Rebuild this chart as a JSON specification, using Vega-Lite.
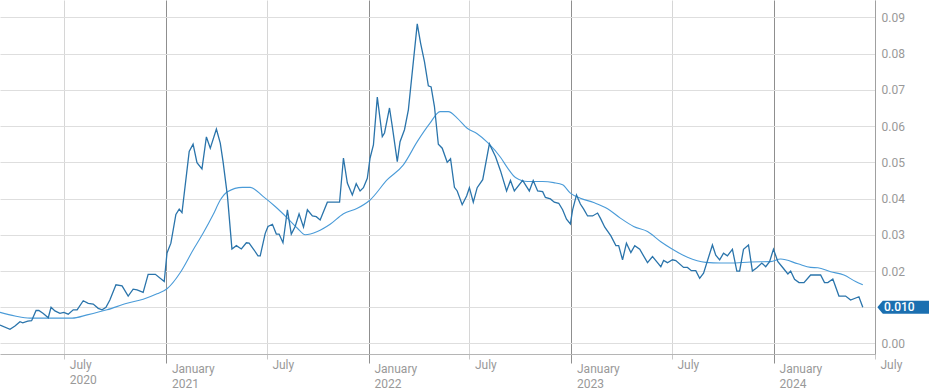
{
  "$schema": "https://vega.github.io/schema/vega-lite/v6.json",
  "width": 875,
  "height": 354,
  "autosize": "none",
  "padding": {"left": 0, "top": 0, "right": 54, "bottom": 35},
  "background": "white",
  "config": {
    "view": {"stroke": null},
    "font": "Roboto",
    "axis": {"labelFont": "Roboto", "labelFontSize": 12, "labelColor": "#999999", "title": null}
  },
  "datasets": {
    "price": [
      {"date": "2020-03-07", "v": 0.0051}, {"date": "2020-03-25", "v": 0.0039}, {"date": "2020-04-03", "v": 0.0048},
      {"date": "2020-04-12", "v": 0.0060}, {"date": "2020-04-17", "v": 0.0057}, {"date": "2020-04-26", "v": 0.0062},
      {"date": "2020-05-03", "v": 0.0063}, {"date": "2020-05-11", "v": 0.0091}, {"date": "2020-05-16", "v": 0.0091},
      {"date": "2020-05-24", "v": 0.0083}, {"date": "2020-06-02", "v": 0.0071}, {"date": "2020-06-07", "v": 0.0100},
      {"date": "2020-06-14", "v": 0.0090}, {"date": "2020-06-23", "v": 0.0083}, {"date": "2020-06-30", "v": 0.0086},
      {"date": "2020-07-08", "v": 0.0081}, {"date": "2020-07-17", "v": 0.0093}, {"date": "2020-07-24", "v": 0.0093},
      {"date": "2020-08-04", "v": 0.0118}, {"date": "2020-08-13", "v": 0.0111}, {"date": "2020-08-22", "v": 0.0109},
      {"date": "2020-08-31", "v": 0.0097}, {"date": "2020-09-07", "v": 0.0093}, {"date": "2020-09-14", "v": 0.0100},
      {"date": "2020-09-21", "v": 0.0120}, {"date": "2020-10-02", "v": 0.0162}, {"date": "2020-10-13", "v": 0.0159},
      {"date": "2020-10-24", "v": 0.0131}, {"date": "2020-11-02", "v": 0.0150}, {"date": "2020-11-09", "v": 0.0148},
      {"date": "2020-11-20", "v": 0.0141}, {"date": "2020-11-29", "v": 0.0191}, {"date": "2020-12-12", "v": 0.0191},
      {"date": "2020-12-28", "v": 0.0171}, {"date": "2021-01-02", "v": 0.0250}, {"date": "2021-01-09", "v": 0.0277},
      {"date": "2021-01-18", "v": 0.0356}, {"date": "2021-01-24", "v": 0.0371}, {"date": "2021-01-29", "v": 0.0361},
      {"date": "2021-02-11", "v": 0.0530}, {"date": "2021-02-18", "v": 0.0550}, {"date": "2021-02-25", "v": 0.0499},
      {"date": "2021-03-06", "v": 0.0482}, {"date": "2021-03-14", "v": 0.0570}, {"date": "2021-03-21", "v": 0.0539},
      {"date": "2021-04-01", "v": 0.0592}, {"date": "2021-04-08", "v": 0.0553}, {"date": "2021-04-13", "v": 0.0502},
      {"date": "2021-04-21", "v": 0.0406}, {"date": "2021-04-29", "v": 0.0261}, {"date": "2021-05-07", "v": 0.0270},
      {"date": "2021-05-16", "v": 0.0261}, {"date": "2021-05-25", "v": 0.0278}, {"date": "2021-05-30", "v": 0.0277},
      {"date": "2021-06-08", "v": 0.0258}, {"date": "2021-06-15", "v": 0.0242}, {"date": "2021-06-19", "v": 0.0242},
      {"date": "2021-06-28", "v": 0.0304}, {"date": "2021-07-03", "v": 0.0323}, {"date": "2021-07-11", "v": 0.0329},
      {"date": "2021-07-18", "v": 0.0302}, {"date": "2021-07-23", "v": 0.0302}, {"date": "2021-07-30", "v": 0.0278},
      {"date": "2021-08-07", "v": 0.0369}, {"date": "2021-08-14", "v": 0.0302}, {"date": "2021-08-21", "v": 0.0323},
      {"date": "2021-08-28", "v": 0.0358}, {"date": "2021-09-05", "v": 0.0321}, {"date": "2021-09-12", "v": 0.0369},
      {"date": "2021-09-21", "v": 0.0352}, {"date": "2021-09-28", "v": 0.0350}, {"date": "2021-10-05", "v": 0.0341},
      {"date": "2021-10-18", "v": 0.0390}, {"date": "2021-10-29", "v": 0.0390}, {"date": "2021-11-09", "v": 0.0390},
      {"date": "2021-11-16", "v": 0.0512}, {"date": "2021-11-23", "v": 0.0443}, {"date": "2021-12-02", "v": 0.0410},
      {"date": "2021-12-09", "v": 0.0441}, {"date": "2021-12-16", "v": 0.0421}, {"date": "2021-12-22", "v": 0.0430},
      {"date": "2021-12-29", "v": 0.0456}, {"date": "2022-01-03", "v": 0.0512}, {"date": "2022-01-09", "v": 0.0548},
      {"date": "2022-01-16", "v": 0.0680}, {"date": "2022-01-25", "v": 0.0571}, {"date": "2022-01-29", "v": 0.0581},
      {"date": "2022-02-07", "v": 0.0650}, {"date": "2022-02-12", "v": 0.0599}, {"date": "2022-02-21", "v": 0.0502},
      {"date": "2022-02-26", "v": 0.0557}, {"date": "2022-03-06", "v": 0.0590}, {"date": "2022-03-13", "v": 0.0645},
      {"date": "2022-03-29", "v": 0.0882}, {"date": "2022-04-04", "v": 0.0829}, {"date": "2022-04-11", "v": 0.0778},
      {"date": "2022-04-18", "v": 0.0711}, {"date": "2022-04-23", "v": 0.0708}, {"date": "2022-04-29", "v": 0.0654},
      {"date": "2022-05-06", "v": 0.0550}, {"date": "2022-05-13", "v": 0.0539}, {"date": "2022-05-22", "v": 0.0500},
      {"date": "2022-05-28", "v": 0.0510}, {"date": "2022-06-04", "v": 0.0431}, {"date": "2022-06-09", "v": 0.0421},
      {"date": "2022-06-18", "v": 0.0383}, {"date": "2022-06-26", "v": 0.0407}, {"date": "2022-07-01", "v": 0.0430},
      {"date": "2022-07-08", "v": 0.0390}, {"date": "2022-07-15", "v": 0.0430}, {"date": "2022-07-25", "v": 0.0452},
      {"date": "2022-08-06", "v": 0.0551}, {"date": "2022-08-17", "v": 0.0516}, {"date": "2022-08-26", "v": 0.0477},
      {"date": "2022-09-06", "v": 0.0421}, {"date": "2022-09-13", "v": 0.0450}, {"date": "2022-09-20", "v": 0.0421},
      {"date": "2022-10-05", "v": 0.0450}, {"date": "2022-10-12", "v": 0.0433}, {"date": "2022-10-17", "v": 0.0421},
      {"date": "2022-10-24", "v": 0.0450}, {"date": "2022-11-01", "v": 0.0421}, {"date": "2022-11-10", "v": 0.0419},
      {"date": "2022-11-15", "v": 0.0403}, {"date": "2022-11-24", "v": 0.0399}, {"date": "2022-12-01", "v": 0.0390},
      {"date": "2022-12-09", "v": 0.0387}, {"date": "2022-12-16", "v": 0.0369}, {"date": "2022-12-23", "v": 0.0343},
      {"date": "2022-12-30", "v": 0.0330}, {"date": "2023-01-03", "v": 0.0369}, {"date": "2023-01-10", "v": 0.0410},
      {"date": "2023-01-17", "v": 0.0385}, {"date": "2023-01-23", "v": 0.0371}, {"date": "2023-01-30", "v": 0.0352},
      {"date": "2023-02-08", "v": 0.0352}, {"date": "2023-02-17", "v": 0.0360}, {"date": "2023-02-22", "v": 0.0346},
      {"date": "2023-03-02", "v": 0.0321}, {"date": "2023-03-13", "v": 0.0297}, {"date": "2023-03-22", "v": 0.0270},
      {"date": "2023-03-27", "v": 0.0270}, {"date": "2023-04-03", "v": 0.0231}, {"date": "2023-04-10", "v": 0.0277},
      {"date": "2023-04-18", "v": 0.0251}, {"date": "2023-04-25", "v": 0.0270}, {"date": "2023-05-04", "v": 0.0260},
      {"date": "2023-05-18", "v": 0.0223}, {"date": "2023-05-27", "v": 0.0240}, {"date": "2023-06-05", "v": 0.0223},
      {"date": "2023-06-11", "v": 0.0212}, {"date": "2023-06-16", "v": 0.0229}, {"date": "2023-06-23", "v": 0.0223},
      {"date": "2023-07-02", "v": 0.0231}, {"date": "2023-07-08", "v": 0.0229}, {"date": "2023-07-22", "v": 0.0210},
      {"date": "2023-07-29", "v": 0.0210}, {"date": "2023-08-05", "v": 0.0201}, {"date": "2023-08-13", "v": 0.0201},
      {"date": "2023-08-20", "v": 0.0180}, {"date": "2023-08-27", "v": 0.0194}, {"date": "2023-09-12", "v": 0.0272},
      {"date": "2023-09-18", "v": 0.0244}, {"date": "2023-09-25", "v": 0.0231}, {"date": "2023-10-02", "v": 0.0249},
      {"date": "2023-10-09", "v": 0.0242}, {"date": "2023-10-18", "v": 0.0260}, {"date": "2023-10-26", "v": 0.0200},
      {"date": "2023-10-31", "v": 0.0200}, {"date": "2023-11-07", "v": 0.0260}, {"date": "2023-11-16", "v": 0.0272},
      {"date": "2023-11-23", "v": 0.0200}, {"date": "2023-12-01", "v": 0.0209}, {"date": "2023-12-10", "v": 0.0222},
      {"date": "2023-12-17", "v": 0.0212}, {"date": "2023-12-24", "v": 0.0226}, {"date": "2023-12-31", "v": 0.0260},
      {"date": "2024-01-08", "v": 0.0226}, {"date": "2024-01-17", "v": 0.0209}, {"date": "2024-01-26", "v": 0.0192},
      {"date": "2024-01-31", "v": 0.0200}, {"date": "2024-02-07", "v": 0.0177}, {"date": "2024-02-15", "v": 0.0168},
      {"date": "2024-02-24", "v": 0.0168}, {"date": "2024-03-07", "v": 0.0189}, {"date": "2024-03-25", "v": 0.0189},
      {"date": "2024-04-01", "v": 0.0168}, {"date": "2024-04-07", "v": 0.0168}, {"date": "2024-04-16", "v": 0.0178},
      {"date": "2024-04-27", "v": 0.0131}, {"date": "2024-05-09", "v": 0.0131}, {"date": "2024-05-18", "v": 0.0120},
      {"date": "2024-06-02", "v": 0.0129}, {"date": "2024-06-09", "v": 0.0100}
    ],
    "ma": [
      {"date": "2020-03-07", "v": 0.0086}, {"date": "2020-04-03", "v": 0.0076}, {"date": "2020-04-30", "v": 0.0070},
      {"date": "2020-06-05", "v": 0.0070}, {"date": "2020-07-15", "v": 0.0070}, {"date": "2020-08-11", "v": 0.0079},
      {"date": "2020-09-16", "v": 0.0093}, {"date": "2020-10-22", "v": 0.0111}, {"date": "2020-11-20", "v": 0.0122},
      {"date": "2020-12-15", "v": 0.0137}, {"date": "2021-01-02", "v": 0.0151}, {"date": "2021-01-26", "v": 0.0196},
      {"date": "2021-02-18", "v": 0.0258}, {"date": "2021-03-08", "v": 0.0304}, {"date": "2021-03-26", "v": 0.0355},
      {"date": "2021-04-08", "v": 0.0396}, {"date": "2021-04-21", "v": 0.0419}, {"date": "2021-05-18", "v": 0.0431},
      {"date": "2021-06-01", "v": 0.0431}, {"date": "2021-06-24", "v": 0.0406}, {"date": "2021-07-16", "v": 0.0378},
      {"date": "2021-08-07", "v": 0.0346}, {"date": "2021-08-25", "v": 0.0318}, {"date": "2021-09-08", "v": 0.0300},
      {"date": "2021-09-30", "v": 0.0309}, {"date": "2021-10-23", "v": 0.0329}, {"date": "2021-11-16", "v": 0.0358},
      {"date": "2021-12-11", "v": 0.0373}, {"date": "2022-01-03", "v": 0.0396}, {"date": "2022-02-03", "v": 0.0452},
      {"date": "2022-03-04", "v": 0.0493}, {"date": "2022-03-29", "v": 0.0557}, {"date": "2022-04-21", "v": 0.0608},
      {"date": "2022-05-09", "v": 0.0640}, {"date": "2022-05-24", "v": 0.0640}, {"date": "2022-06-09", "v": 0.0622},
      {"date": "2022-06-27", "v": 0.0594}, {"date": "2022-07-15", "v": 0.0579}, {"date": "2022-08-04", "v": 0.0553},
      {"date": "2022-08-26", "v": 0.0514}, {"date": "2022-09-08", "v": 0.0484}, {"date": "2022-09-22", "v": 0.0458},
      {"date": "2022-10-14", "v": 0.0447}, {"date": "2022-11-10", "v": 0.0447}, {"date": "2022-11-30", "v": 0.0444},
      {"date": "2022-12-16", "v": 0.0438}, {"date": "2022-12-30", "v": 0.0415}, {"date": "2023-01-17", "v": 0.0401},
      {"date": "2023-02-10", "v": 0.0389}, {"date": "2023-03-07", "v": 0.0372}, {"date": "2023-03-30", "v": 0.0346},
      {"date": "2023-04-23", "v": 0.0323}, {"date": "2023-05-18", "v": 0.0309}, {"date": "2023-06-11", "v": 0.0281},
      {"date": "2023-06-29", "v": 0.0263}, {"date": "2023-07-29", "v": 0.0238}, {"date": "2023-08-31", "v": 0.0224},
      {"date": "2023-09-27", "v": 0.0222}, {"date": "2023-10-15", "v": 0.0222}, {"date": "2023-11-20", "v": 0.0225},
      {"date": "2023-12-26", "v": 0.0226}, {"date": "2024-01-13", "v": 0.0233}, {"date": "2024-02-13", "v": 0.0220},
      {"date": "2024-03-07", "v": 0.0210}, {"date": "2024-03-20", "v": 0.0209}, {"date": "2024-04-12", "v": 0.0198},
      {"date": "2024-05-06", "v": 0.0189}, {"date": "2024-05-27", "v": 0.0171}, {"date": "2024-06-09", "v": 0.0162}
    ],
    "last": [{"date": "2024-06-09", "v": 0.010, "label": "0.010"}]
  },
  "encoding": {
    "x": {
      "field": "date", "type": "temporal",
      "scale": {"type": "utc", "domain": [{"year": 2020, "month": 3, "date": 7, "utc": true}, {"year": 2024, "month": 7, "date": 1, "utc": true}]},
      "axis": {
        "orient": "bottom",
        "tickCount": {"interval": "month", "step": 6},
        "grid": true,
        "gridColor": {"condition": {"test": "utcmonth(datum.value)==0", "value": "#8f8f8f"}, "value": "#d6d6d6"},
        "gridWidth": 1,
        "domain": true, "domainColor": "#b5b5b5",
        "ticks": true,
        "tickSize": {"condition": {"test": "utcmonth(datum.value)==0", "value": 9}, "value": 5},
        "tickColor": {"condition": {"test": "utcmonth(datum.value)==0", "value": "#8f8f8f"}, "value": "#c8c8c8"},
        "labelAlign": "left", "labelBaseline": "top", "labelOffset": 5, "labelPadding": 0,
        "labelFlush": false, "labelOverlap": false, "labelBound": false, "labelLineHeight": 15,
        "labelExpr": "(utcmonth(datum.value)==0 || utcyear(datum.value)==2020) ? [utcFormat(datum.value,'%B'), utcFormat(datum.value,'%Y')] : utcFormat(datum.value,'%B')"
      }
    },
    "y": {
      "field": "v", "type": "quantitative",
      "scale": {"domain": [-0.0029, 0.0948], "nice": false, "zero": false},
      "axis": {
        "orient": "right",
        "values": [0, 0.01, 0.02, 0.03, 0.04, 0.05, 0.06, 0.07, 0.08, 0.09],
        "tickCount": 10,
        "format": ".2f",
        "labelExpr": "datum.value == 0.01 ? '' : datum.label",
        "labelOverlap": false,
        "grid": true, "gridColor": "#dedede",
        "domain": true, "domainColor": "#a0a0a0",
        "ticks": false, "labelPadding": 6, "labelBaseline": "middle"
      }
    }
  },
  "layer": [
    {
      "data": {"name": "ma"},
      "mark": {"type": "line", "color": "#4a9bd8", "strokeWidth": 1.1, "interpolate": "monotone"}
    },
    {
      "data": {"name": "price"},
      "mark": {"type": "line", "color": "#2a74ab", "strokeWidth": 1.3}
    },
    {
      "data": {"name": "last"},
      "mark": {"type": "point", "filled": true, "opacity": 1, "color": "#1b6fb0", "strokeWidth": 0,
               "shape": "M0.09,0 L0.3,-0.25 L2.1,-0.25 L2.1,0.25 L0.3,0.25 Z", "size": 2704},
      "encoding": {
        "x": {"value": "width"}
      }
    },
    {
      "data": {"name": "last"},
      "mark": {"type": "text", "align": "left", "baseline": "middle", "dx": 9, "color": "white", "font": "Roboto", "fontSize": 12, "fontWeight": 500},
      "encoding": {
        "x": {"value": "width"},
        "text": {"field": "label"}
      }
    }
  ]
}
